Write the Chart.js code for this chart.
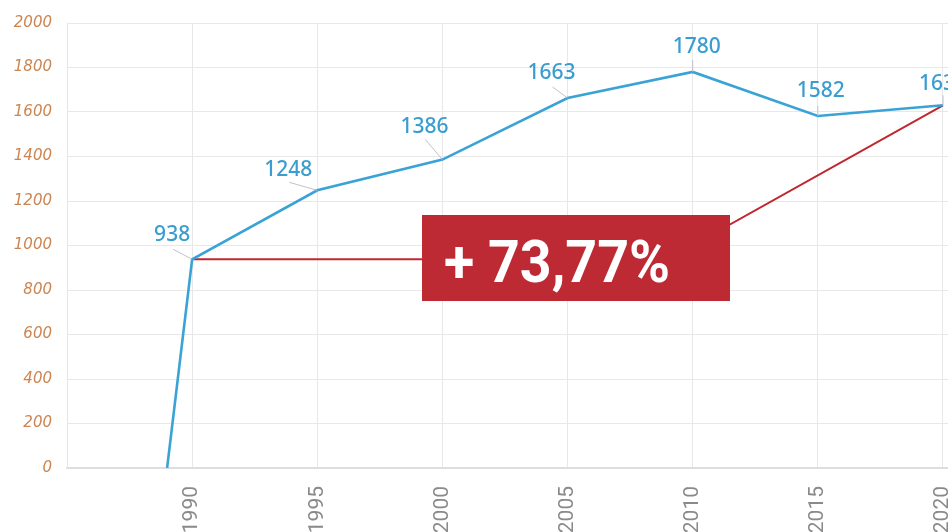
<!DOCTYPE html>
<html>
<head>
<meta charset="utf-8">
<script src="https://cdn.jsdelivr.net/npm/chart.js@4.4.1/dist/chart.umd.min.js"></script>
<style>
html,body{margin:0;padding:0;background:#fff;}
#wrap{width:948px;height:532px;position:relative;}
</style>
</head>
<body>
<div id="wrap"><canvas id="c" width="948" height="532"></canvas></div>
<script>
// ---- data ----
const years = [1989, 1990, 1995, 2000, 2005, 2010, 2015, 2020];
const values = [0, 938, 1248, 1386, 1663, 1780, 1582, 1630];
const labelFlags = [false, true, true, true, true, true, true, true];
const xTicks = [1990, 1995, 2000, 2005, 2010, 2015, 2020];
const yTicks = [0, 200, 400, 600, 800, 1000, 1200, 1400, 1600, 1800, 2000];
const connectorYears = [1990, 2009, 2020];
const connectorValues = [938, 938, 1630];
const growthText = '+ 73,77%';

// label placement (pixel offsets from point): [labelDx, labelDy, leaderDx, leaderDy]
const labelOffsets = [
  null,
  [-20, -25, -19, -10],
  [-29, -21, -28, -8],
  [-18, -34, -17, -20],
  [-16, -26, -15, -11],
  [4, -26, 0, -12],
  [3, -26, 0, -10],
  [0, -22, 0, -10]
];

const labelPlugin = {
  id: 'valueLabels',
  afterDatasetsDraw(chart) {
    const ctx = chart.ctx;
    const meta = chart.getDatasetMeta(1);
    ctx.save();
    meta.data.forEach((pt, i) => {
      if (!labelFlags[i]) return;
      const o = labelOffsets[i];
      ctx.strokeStyle = 'rgba(190,185,195,0.9)';
      ctx.lineWidth = 1;
      ctx.beginPath();
      ctx.moveTo(pt.x + o[2], pt.y + o[3]);
      ctx.lineTo(pt.x, pt.y);
      ctx.stroke();
      ctx.fillStyle = '#3a9dcf';
      ctx.font = '500 21px "Noto Sans", sans-serif';
      ctx.textAlign = 'center';
      ctx.textBaseline = 'middle';
      ctx.fillText(String(values[i]), pt.x + o[0], pt.y + o[1] + 1);
    });
    // growth box
    const bx = 422, by = 215, bw = 308, bh = 86;
    ctx.fillStyle = '#be2a34';
    ctx.fillRect(bx, by, bw, bh);
    ctx.fillStyle = '#ffffff';
    ctx.font = 'bold 60px Roboto, "Liberation Sans", sans-serif';
    ctx.textAlign = 'left';
    ctx.textBaseline = 'alphabetic';
    const w = ctx.measureText(growthText).width;
    const target = 226;
    ctx.save();
    ctx.translate(444, 282);
    ctx.scale(target / w, 1);
    ctx.fillText(growthText, 0, 0);
    ctx.restore();
    ctx.restore();
  }
};

new Chart(document.getElementById('c'), {
  type: 'line',
  data: {
    datasets: [
      {
        data: connectorYears.map((x, i) => ({x, y: connectorValues[i]})),
        borderColor: '#c0272f',
        borderWidth: 2,
        pointRadius: 0,
        tension: 0,
        order: 2
      },
      {
        data: years.map((x, i) => ({x, y: values[i]})),
        borderColor: '#3aa3d5',
        borderWidth: 2.6,
        pointRadius: 0,
        tension: 0,
        order: 1
      }
    ]
  },
  options: {
    responsive: false,
    animation: false,
    layout: {padding: {top: 23, right: 0, left: 0, bottom: 0}},
    plugins: {legend: {display: false}, tooltip: {enabled: false}},
    scales: {
      x: {
        type: 'linear',
        min: 1985,
        max: 2020.2,
        afterBuildTicks(axis) { axis.ticks = xTicks.map(v => ({value: v})); },
        afterFit(axis) { axis.height = 64; axis.paddingRight = 0; axis.paddingLeft = 0; },
        grid: {color: '#e8e8e8', lineWidth: 1, drawTicks: false},
        border: {color: '#dedede', width: 2},
        ticks: {
          maxRotation: 90, minRotation: 90,
          padding: 18,
          color: '#8a8a8a',
          font: {family: 'Roboto, "DejaVu Sans", sans-serif', size: 21},
          callback: v => String(v)
        }
      },
      y: {
        min: 0,
        max: 2000,
        afterBuildTicks(axis) { axis.ticks = yTicks.map(v => ({value: v})); },
        afterFit(axis) { axis.width = 67; axis.paddingTop = 0; axis.paddingBottom = 0; },
        grid: {color: '#e8e8e8', lineWidth: 1, drawTicks: false},
        border: {color: '#e6e6e6', width: 1},
        ticks: {
          padding: 15,
          color: '#cc8450',
          font: {family: '"DejaVu Sans", sans-serif', size: 15, style: 'italic'},
          callback: v => String(v)
        }
      }
    }
  },
  plugins: [labelPlugin]
});
</script>
</body>
</html>
